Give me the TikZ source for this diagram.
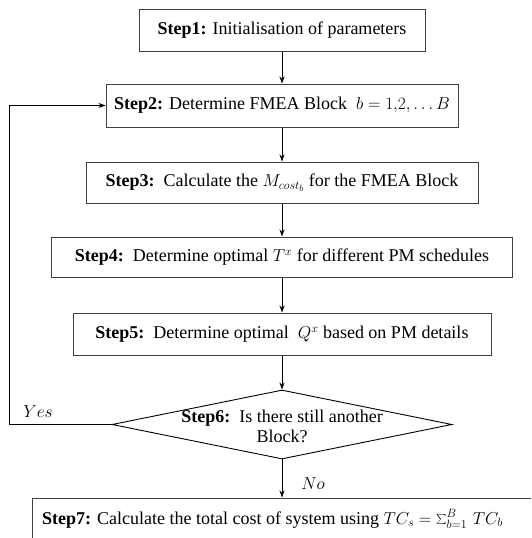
\documentclass[tikz,border=0pt]{standalone}
\usepackage{fontspec}
\setmainfont{Liberation Serif}
\usetikzlibrary{arrows.meta,shapes.geometric}
\tikzset{
  txt/.style={font=\fontsize{18}{20}\selectfont},
  stepbox/.style={txt,draw=black!75,line width=1pt,rectangle,inner sep=0pt,align=center},
  decision/.style={draw=black,line width=0.9pt,diamond,inner sep=0pt},
  arr/.style={line width=0.8pt,-{Stealth[length=7pt,width=5pt]}},
  lbl/.style={txt,inner sep=0pt}
}
\begin{document}
\begin{tikzpicture}[x=1pt,y=-1pt]
\useasboundingbox (0,0) rectangle (531,538);
\clip (0,0) rectangle (531,538);
\node[stepbox,minimum width=286pt,minimum height=42pt] (s1) at (282,30) {\textbf{Step1:} Initialisation of parameters};
\node[stepbox,minimum width=352pt,minimum height=43pt] (s2) at (282,105.5) {\textbf{Step2:} Determine FMEA Block \ $b=1{,}2,\ldots B$};
\node[stepbox,minimum width=392pt,minimum height=41pt] (s3) at (282,182.5) {\textbf{Step3:}\ \ Calculate the $M_{cost_b}$ for the FMEA Block};
\node[stepbox,minimum width=461pt,minimum height=40pt] (s4) at (282,257) {\textbf{Step4:}\ \ Determine optimal $T^x$ for different PM schedules};
\node[stepbox,minimum width=418pt,minimum height=42pt] (s5) at (282,334) {\textbf{Step5:}\ \ Determine optimal \ $Q^x$ based on PM details};
\node[decision,minimum width=340pt,minimum height=69pt] (s6) at (282,424.5) {};
\node[lbl,align=center] (t6) at (282,426) {\textbf{Step6:}\ \ Is there still another\\Block?};
\node[stepbox,minimum width=500pt,minimum height=46pt] (s7) at (282,521) {};
\node[lbl,anchor=west] (t7) at (42,519) {\textbf{Step7:} Calculate the total cost of system using $TC_s=\sum_{b=1}^{B}\,TC_b$};
\draw[arr] (s1) -- (s2);
\draw[arr] (s2) -- (s3);
\draw[arr] (s3) -- (s4);
\draw[arr] (s4) -- (s5);
\draw[arr] (s5) -- (s6);
\draw[arr] (s6) -- (s7);
\coordinate (loop) at (9,424.5);
\draw[arr] (s6.west) -- (loop) |- (s2.west);
\node[lbl] (yes) at (38,412) {$Yes$};
\node[lbl] (no) at (313,484) {$No$};
\end{tikzpicture}
\end{document}
